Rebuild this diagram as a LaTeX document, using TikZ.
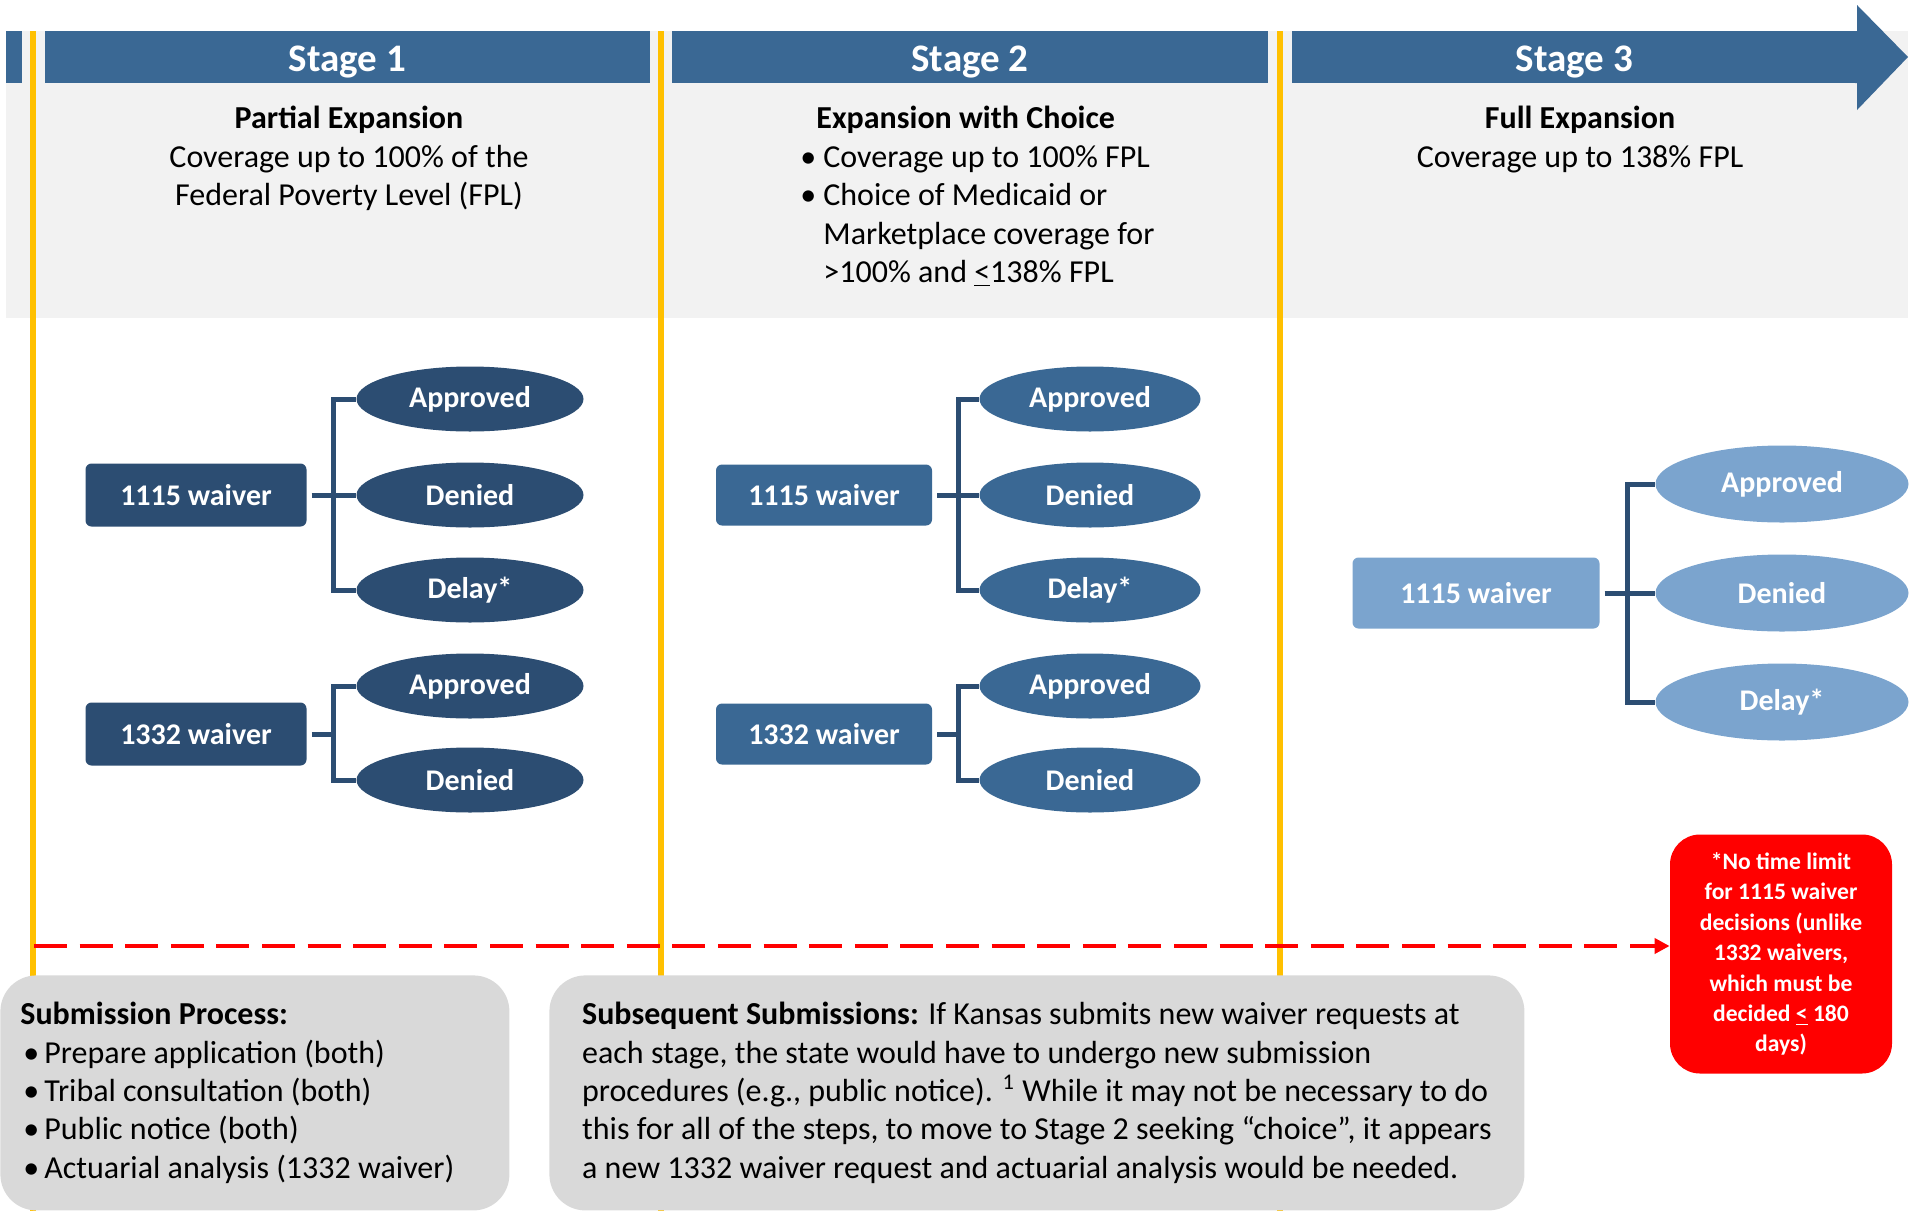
\documentclass[tikz,border=0pt]{standalone}
\usepackage{fontspec}
\setmainfont{Carlito}
\usepackage{tikz}
\usetikzlibrary{shapes.geometric,arrows.meta}
\definecolor{bannerblue}{RGB}{58,104,148}
\definecolor{darkblue}{RGB}{44,77,114}
\definecolor{lightblue}{RGB}{123,164,206}
\definecolor{stageyellow}{RGB}{255,192,0}
\definecolor{panelgray}{RGB}{242,242,242}
\definecolor{boxgray}{RGB}{217,217,217}
\definecolor{alertred}{RGB}{255,0,0}
\tikzstyle{banner} = [rectangle, fill=bannerblue, text=white, font=\fontsize{19.5}{23}\selectfont\bfseries, minimum height=26pt, text height=14.5pt, text depth=0pt, inner sep=0pt]
\tikzstyle{headtext} = [align=center, anchor=north, inner sep=0pt, font=\fontsize{16}{19.2}\selectfont]
\tikzstyle{waiver} = [rectangle, rounded corners=3pt, text=white, font=\fontsize{15}{18}\selectfont\bfseries, inner sep=0pt]
\tikzstyle{outcome} = [ellipse, text=white, font=\fontsize{15}{18}\selectfont\bfseries, inner sep=0pt]
\tikzstyle{connector} = [draw=darkblue, line width=2.5pt, shorten <=2.5pt]
\tikzstyle{divider} = [draw=stageyellow, line width=2.7pt]
\tikzstyle{infobox} = [rectangle, rounded corners=18pt, fill=boxgray, align=flush left, anchor=north west, minimum height=117.5pt, font=\fontsize{16}{19.2}\selectfont]
\tikzstyle{warnbox} = [rectangle, rounded corners=15pt, fill=alertred, text=white, align=center, minimum width=111pt, minimum height=119.5pt, inner sep=0pt, font=\fontsize{11.8}{15.2}\selectfont\bfseries]
\tikzstyle{deadline} = [draw=alertred, line width=2pt, dash pattern=on 16.5pt off 6.3pt, -{Triangle[length=7.5pt,width=7.5pt]}]

\begin{document}
\begin{tikzpicture}[x=0.5pt, y=-0.5pt]
            \useasboundingbox (0,0) rectangle (1918,1211);
            \fill[panelgray] (6,31) rectangle (1908,318);
            \fill[bannerblue] (6,31) rectangle (22,83);
            \node (stage1) [banner, minimum width=302.5pt] at (347.5,57) {Stage 1};
            \node (stage2) [banner, minimum width=298pt] at (970,57) {Stage 2};
            \node (stage3) [banner, minimum width=282.5pt] at (1574.5,57) {Stage 3};
            \fill[bannerblue] (1855,31) -- (1857,31) -- (1857,5) -- (1908,57) -- (1857,110) -- (1857,83) -- (1855,83) -- cycle;
            \draw[divider] (33,31) -- (33,1211);
            \draw[divider] (661,31) -- (661,1211);
            \draw[divider] (1280,31) -- (1280,1211);
            \node (s1head) [headtext] at (349,106) {\textbf{Partial Expansion}\\Coverage up to 100\% of the\\Federal Poverty Level (FPL)};
            \node (s2head) [headtext, align=left, anchor=north west] at (800,106) {\hspace*{8pt}\textbf{Expansion with Choice}\\\makebox[11.5pt][l]{\textbullet}Coverage up to 100\% FPL\\\makebox[11.5pt][l]{\textbullet}Choice of Medicaid or\\\hspace*{11.5pt}Marketplace coverage for\\\hspace*{11.5pt}>100\% and \underline{<}138\% FPL};
            \node (s3head) [headtext] at (1580,106) {\textbf{Full Expansion}\\Coverage up to 138\% FPL};
            \node (s1w1115) [waiver, fill=darkblue, minimum width=110.5pt, minimum height=31.5pt] at (196,495) {1115 waiver};
            \node (s1w1332) [waiver, fill=darkblue, minimum width=110.5pt, minimum height=31.5pt] at (196,734) {1332 waiver};
            \node (s1appr) [outcome, fill=darkblue, minimum width=113.5pt, minimum height=32.5pt] at (470,399) {Approved};
            \node (s1deny) [outcome, fill=darkblue, minimum width=113.5pt, minimum height=32.5pt] at (470,495) {Denied};
            \node (s1delay) [outcome, fill=darkblue, minimum width=113.5pt, minimum height=32.5pt] at (470,590) {Delay*};
            \node (s1appr2) [outcome, fill=darkblue, minimum width=113.5pt, minimum height=32.5pt] at (470,686) {Approved};
            \node (s1deny2) [outcome, fill=darkblue, minimum width=113.5pt, minimum height=32.5pt] at (470,780) {Denied};
            \node (s2w1115) [waiver, fill=bannerblue, minimum width=108pt, minimum height=30.5pt] at (824,495) {1115 waiver};
            \node (s2w1332) [waiver, fill=bannerblue, minimum width=108pt, minimum height=30.5pt] at (824,734) {1332 waiver};
            \node (s2appr) [outcome, fill=bannerblue, minimum width=110.5pt, minimum height=32.5pt] at (1090,399) {Approved};
            \node (s2deny) [outcome, fill=bannerblue, minimum width=110.5pt, minimum height=32.5pt] at (1090,495) {Denied};
            \node (s2delay) [outcome, fill=bannerblue, minimum width=110.5pt, minimum height=32.5pt] at (1090,590) {Delay*};
            \node (s2appr2) [outcome, fill=bannerblue, minimum width=110.5pt, minimum height=32.5pt] at (1090,686) {Approved};
            \node (s2deny2) [outcome, fill=bannerblue, minimum width=110.5pt, minimum height=32.5pt] at (1090,780) {Denied};
            \node (s3w1115) [waiver, fill=lightblue, minimum width=123.5pt, minimum height=35.5pt] at (1476,593) {1115 waiver};
            \node (s3appr) [outcome, fill=lightblue, minimum width=126.5pt, minimum height=38.5pt] at (1782,484) {Approved};
            \node (s3deny) [outcome, fill=lightblue, minimum width=126.5pt, minimum height=38.5pt] at (1782,593) {Denied};
            \node (s3delay) [outcome, fill=lightblue, minimum width=126.5pt, minimum height=38.5pt] at (1782,702) {Delay*};
            \draw [connector] (s1w1115.east) -- ++(27,0) |- (s1appr.west);
            \draw [connector] (s1w1115.east) -- ++(27,0) |- (s1deny.west);
            \draw [connector] (s1w1115.east) -- ++(27,0) |- (s1delay.west);
            \draw [connector] (s1w1332.east) -- ++(27,0) |- (s1appr2.west);
            \draw [connector] (s1w1332.east) -- ++(27,0) |- (s1deny2.west);
            \draw [connector] (s2w1115.east) -- ++(26,0) |- (s2appr.west);
            \draw [connector] (s2w1115.east) -- ++(26,0) |- (s2deny.west);
            \draw [connector] (s2w1115.east) -- ++(26,0) |- (s2delay.west);
            \draw [connector] (s2w1332.east) -- ++(26,0) |- (s2appr2.west);
            \draw [connector] (s2w1332.east) -- ++(26,0) |- (s2deny2.west);
            \draw [connector] (s3w1115.east) -- ++(28,0) |- (s3appr.west);
            \draw [connector] (s3w1115.east) -- ++(28,0) |- (s3deny.west);
            \draw [connector] (s3w1115.east) -- ++(28,0) |- (s3delay.west);
            \node (limitnote) [warnbox] at (1781,954) {*No time limit\\for 1115 waiver\\decisions (unlike\\1332 waivers,\\which must be\\decided \underline{<} 180\\days)};
            \coordinate (dashstart) at (34,946);
            \draw [deadline] (dashstart) -- (dashstart -| limitnote.west);
            \node (subproc) [infobox, minimum width=254.5pt, text width=234.5pt, inner xsep=10pt] at (0,975) {\textbf{Submission Process:}\\\hspace*{1.5pt}\makebox[10.5pt][l]{\textbullet}Prepare application (both)\\\hspace*{1.5pt}\makebox[10.5pt][l]{\textbullet}Tribal consultation (both)\\\hspace*{1.5pt}\makebox[10.5pt][l]{\textbullet}Public notice (both)\\\hspace*{1.5pt}\makebox[10.5pt][l]{\textbullet}Actuarial analysis (1332 waiver)};
            \node (subseq) [infobox, minimum width=487.5pt] at (549,975) {\textbf{Subsequent Submissions:} If Kansas submits new waiver requests at\\each stage, the state would have to undergo new submission\\procedures (e.g., public notice). \textsuperscript{1} While it may not be necessary to do\\this for all of the steps, to move to Stage 2 seeking “choice”, it appears\\a new 1332 waiver request and actuarial analysis would be needed.};
        \end{tikzpicture}
\end{document}
